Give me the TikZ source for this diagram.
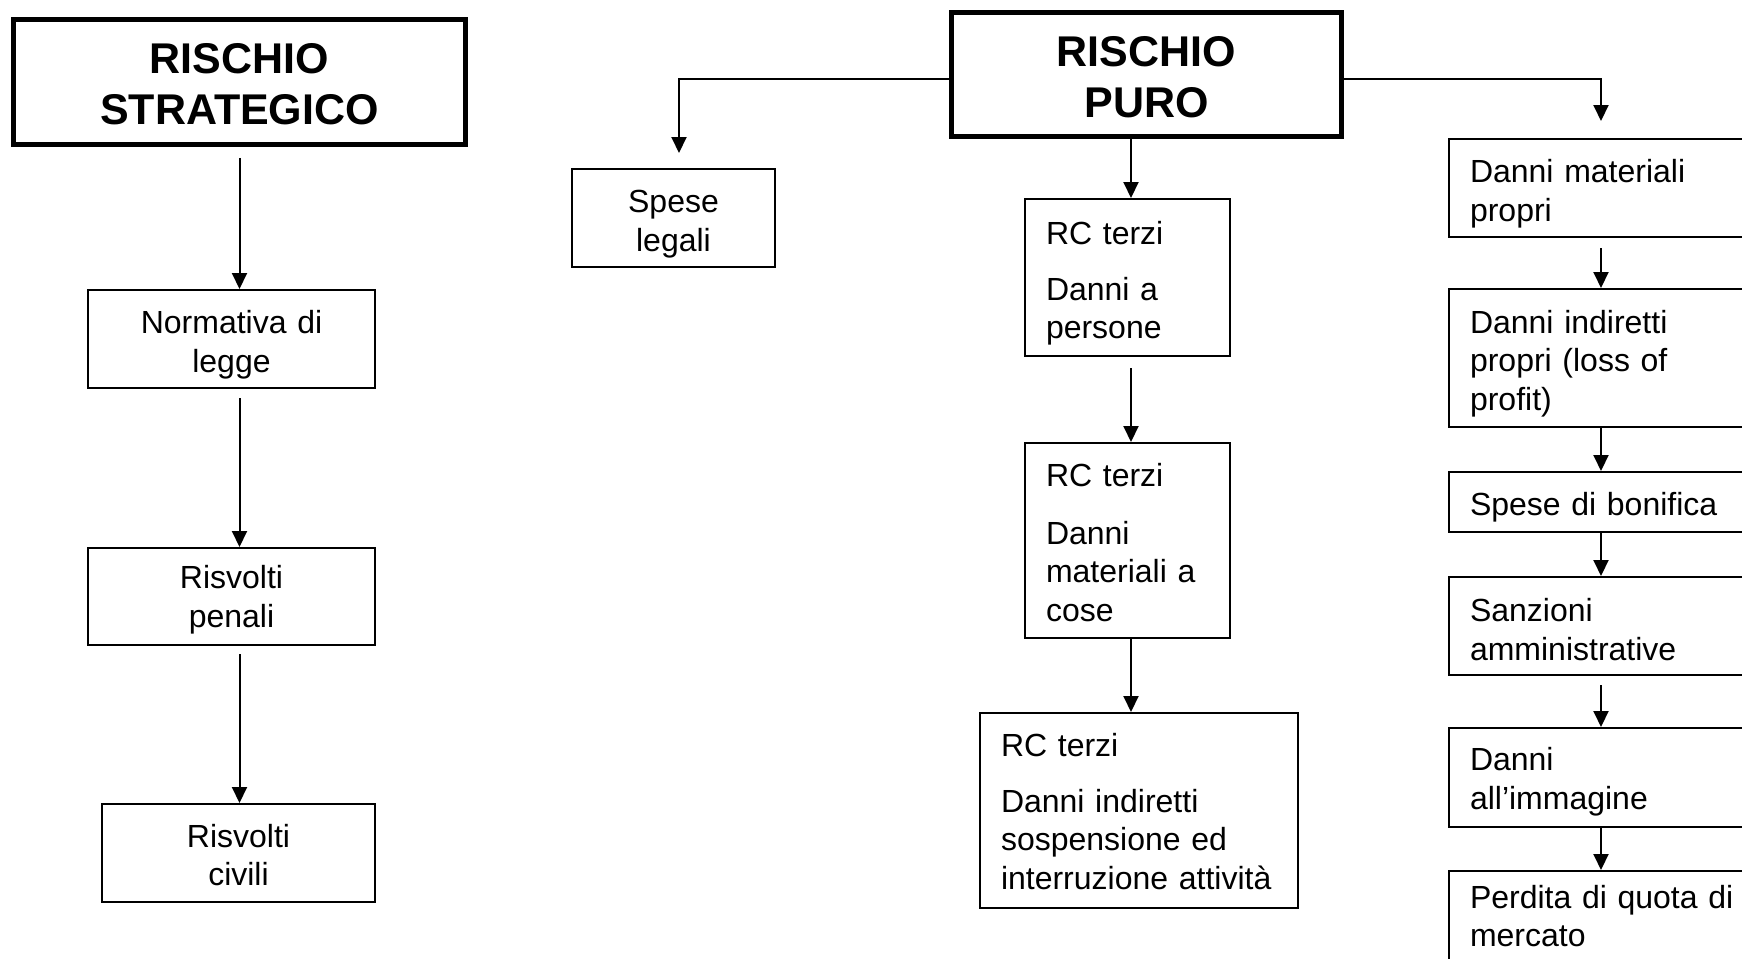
\documentclass[tikz,border=0pt]{standalone}
\usepackage{fontspec}
\setmainfont{Liberation Sans}
\usetikzlibrary{arrows.meta}
\begin{document}
\begin{tikzpicture}[x=0.5pt,y=-0.5pt,
  topstrut/.style={execute at begin node={\rule{0pt}{#1}}},
  titlebox/.style={draw, line width=2.4pt, font=\fontsize{21.5}{25.5}\selectfont\bfseries, align=center, inner xsep=1pt, inner ysep=0pt},
  cbox/.style={draw, line width=1pt, font=\fontsize{16}{19.25}\selectfont, align=center, inner xsep=1pt, inner ysep=0pt},
  lbox/.style={draw, line width=1pt, font=\fontsize{16}{19.25}\selectfont, align=left, inner xsep=10.5pt, inner ysep=0pt},
  arr/.style={line width=1pt, -{Triangle[length=8pt,width=7.5pt]}}
]
\useasboundingbox (0,0) rectangle (1742,959);
\fill[white] (0,0) rectangle (1742,959);
\clip (0,0) rectangle (1742,959);

% left column
\node[titlebox, topstrut=17.6pt, text width=224pt, minimum height=62.5pt] (strat) at (239.5,82) {RISCHIO\\STRATEGICO};
\node[cbox, topstrut=17.2pt, text width=141.5pt, minimum height=49pt] (norm) at (231.5,339) {Normativa di\\legge};
\node[cbox, topstrut=15pt, text width=141.5pt, minimum height=48.5pt] (pen) at (231.5,596.5) {Risvolti\\penali};
\node[cbox, topstrut=13.4pt, text width=134.5pt, minimum height=49pt] (civ) at (238.5,853) {Risvolti\\civili};

% puro
\node[titlebox, topstrut=18.2pt, text width=193pt, minimum height=62pt] (puro) at (1146.5,74.5) {RISCHIO\\PURO};
\node[cbox, topstrut=17.2pt, text width=99.5pt, minimum height=49pt] (spese) at (673.5,218) {Spese\\legali};

% centre column
\node[lbox, topstrut=17.2pt, text width=81.5pt, minimum height=78.5pt] (rc1) at (1127.5,277.5) {RC terzi\\[8.75pt]Danni a\\persone};
\node[lbox, topstrut=13.7pt, text width=81.5pt, minimum height=97.5pt] (rc2) at (1127.5,540.5) {RC terzi\\[9.5pt]Danni\\materiali a\\cose};
\node[lbox, topstrut=12.6pt, text width=138pt, minimum height=97.5pt] (rc3) at (1139,810.5) {RC terzi\\[8.5pt]Danni indiretti\\sospensione ed\\interruzione attività};

% right column
\node[lbox, topstrut=17.2pt, text width=154.5pt, minimum height=49pt] (rb1) at (1624.5,188) {Danni materiali\\propri};
\node[lbox, topstrut=17.2pt, text width=154.5pt, minimum height=69pt] (rb2) at (1624.5,358) {Danni indiretti\\propri (loss of\\profit)};
\node[lbox, topstrut=17.2pt, text width=154.5pt, minimum height=30pt] (rb3) at (1624.5,502) {Spese di bonifica};
\node[lbox, topstrut=15pt, text width=154.5pt, minimum height=49pt] (rb4) at (1624.5,626) {Sanzioni\\amministrative};
\node[lbox, topstrut=16pt, text width=154.5pt, minimum height=49.5pt] (rb5) at (1624.5,777.5) {Danni\\all’immagine};
\node[lbox, topstrut=11.5pt, text width=154.5pt, minimum height=45pt] (rb6) at (1624.5,916) {Perdita di quota di\\mercato};

\coordinate (rcol) at (1601,0);
\coordinate (ccol) at (1131,0);

% arrows left
\draw[arr, shorten <=5.5pt] (strat.south) -- (strat.south |- norm.north);
\draw[arr, shorten <=4.5pt] (strat.south |- norm.south) -- (strat.south |- pen.north);
\draw[arr, shorten <=4pt] (strat.south |- pen.south) -- (strat.south |- civ.north);

% arrows from puro
\draw[arr] ([yshift=-2.25pt]puro.west) -| ([xshift=2.75pt,yshift=7.5pt]spese.north);
\draw[arr, shorten >=8.5pt] ([yshift=-2.25pt]puro.east) -| (rcol |- rb1.north);
\draw[arr] (ccol |- puro.south) -- (ccol |- rc1.north);
\draw[arr, shorten <=5.5pt] (ccol |- rc1.south) -- (ccol |- rc2.north);
\draw[arr] (ccol |- rc2.south) -- (ccol |- rc3.north);

% arrows right
\draw[arr, shorten <=5pt] (rcol |- rb1.south) -- (rcol |- rb2.north);
\draw[arr] (rcol |- rb2.south) -- (rcol |- rb3.north);
\draw[arr] (rcol |- rb3.south) -- (rcol |- rb4.north);
\draw[arr, shorten <=4.5pt] (rcol |- rb4.south) -- (rcol |- rb5.north);
\draw[arr] (rcol |- rb5.south) -- (rcol |- rb6.north);
\end{tikzpicture}
\end{document}
